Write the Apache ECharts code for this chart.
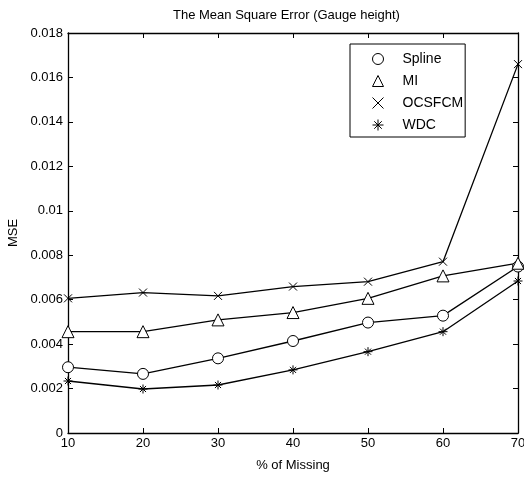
<!DOCTYPE html>
<html>
<head>
<meta charset="utf-8">
<style>
  html, body { margin: 0; padding: 0; background: #fff; }
  #chart { width: 524px; height: 479px; }
</style>
<script src="https://cdn.jsdelivr.net/npm/echarts@6/dist/echarts.min.js"></script>
</head>
<body>
<div id="chart"></div>
<script>
// Percentage of missing values (x axis)
var missingPct = [10, 20, 30, 40, 50, 60, 70];

// MSE per method
var splineMSE = [0.00296, 0.00266, 0.00336, 0.00414, 0.00497, 0.00528, 0.00749];
var miMSE     = [0.00456, 0.00456, 0.00509, 0.00542, 0.00606, 0.00707, 0.00764];
var ocsfcmMSE = [0.00606, 0.00632, 0.00617, 0.00659, 0.00681, 0.00771, 0.0166];
var wdcMSE    = [0.00234, 0.00198, 0.00216, 0.00284, 0.00366, 0.00456, 0.00684];

var seriesNames = ['Spline', 'MI', 'OCSFCM', 'WDC'];

var FONT = '"Liberation Sans", Arial, sans-serif';
var CROSS = 'path://M0,0L10,10M10,0L0,10';
var STAR = 'path://M5,0L5,10M0,5L10,5M1.6,1.6L8.4,8.4M8.4,1.6L1.6,8.4';

function pairs(vals) {
  return missingPct.map(function (x, i) { return [x, vals[i]]; });
}

var markerStyle = { color: '#fff', borderColor: '#000', borderWidth: 1 };
var lineStyle = { color: '#000', width: 1.3 };

function makeSeries(name, vals, symbol, size) {
  return {
    name: name,
    type: 'line',
    data: pairs(vals),
    symbol: symbol,
    symbolSize: size,
    showAllSymbol: true,
    clip: false,
    lineStyle: lineStyle,
    itemStyle: markerStyle,
    emphasis: { disabled: true },
    z: 3
  };
}

var boxAxisLine = { show: true, onZero: false, lineStyle: { color: '#000', width: 1.3 } };
var innerTick = { show: true, inside: true, length: 5, lineStyle: { color: '#000', width: 1 } };

var chart = echarts.init(document.getElementById('chart'), null, { renderer: 'canvas' });
chart.setOption({
  backgroundColor: '#fff',
  animation: false,
  title: {
    text: 'The Mean Square Error (Gauge height)',
    left: 173,
    top: 9,
    padding: 0,
    textStyle: { fontFamily: FONT, fontSize: 13, fontWeight: 'normal', color: '#000' }
  },
  legend: {
    orient: 'vertical',
    left: 350,
    top: 44,
    itemWidth: 11,
    itemHeight: 11,
    itemGap: 8,
    padding: [8, 2, 5, 22],
    borderColor: '#000',
    borderWidth: 1,
    backgroundColor: '#fff',
    selectedMode: false,
    textStyle: { fontFamily: FONT, fontSize: 14, color: '#000', padding: [0, 0, 0, 14] },
    data: [
      { name: 'Spline', icon: 'circle', itemStyle: markerStyle },
      { name: 'MI', icon: 'triangle', itemStyle: markerStyle },
      { name: 'OCSFCM', icon: CROSS, itemStyle: markerStyle },
      { name: 'WDC', icon: STAR, itemStyle: markerStyle }
    ]
  },
  grid: {
    left: 68, right: 6, top: 33, bottom: 46,
    containLabel: false,
    outerBoundsMode: 'none'
  },
  xAxis: [
    {
      type: 'value', min: 10, max: 70, interval: 10,
      name: '% of Missing', nameLocation: 'middle', nameGap: 26,
      nameTextStyle: { fontFamily: FONT, fontSize: 13, color: '#000' },
      axisLine: boxAxisLine, axisTick: innerTick,
      axisLabel: { fontFamily: FONT, fontSize: 13, color: '#000', margin: 4 },
      splitLine: { show: false }
    },
    {
      type: 'value', min: 10, max: 70, interval: 10, position: 'top',
      axisLine: boxAxisLine, axisTick: innerTick,
      axisLabel: { show: false }, splitLine: { show: false }
    }
  ],
  yAxis: [
    {
      type: 'value', min: 0, max: 0.018, interval: 0.002,
      name: 'MSE', nameLocation: 'middle', nameGap: 43,
      nameTextStyle: { fontFamily: FONT, fontSize: 13, color: '#000' },
      axisLine: boxAxisLine, axisTick: innerTick,
      axisLabel: {
        fontFamily: FONT, fontSize: 13, color: '#000', margin: 5,
        formatter: function (v) { return String(+v.toFixed(3)); }
      },
      splitLine: { show: false }
    },
    {
      type: 'value', min: 0, max: 0.018, interval: 0.002, position: 'right',
      axisLine: boxAxisLine, axisTick: innerTick,
      axisLabel: { show: false }, splitLine: { show: false }
    }
  ],
  series: [
    makeSeries(seriesNames[0], splineMSE, 'circle', 11),
    makeSeries(seriesNames[1], miMSE, 'triangle', 12),
    makeSeries(seriesNames[2], ocsfcmMSE, CROSS, 8),
    makeSeries(seriesNames[3], wdcMSE, STAR, 9)
  ]
});
</script>
</body>
</html>
